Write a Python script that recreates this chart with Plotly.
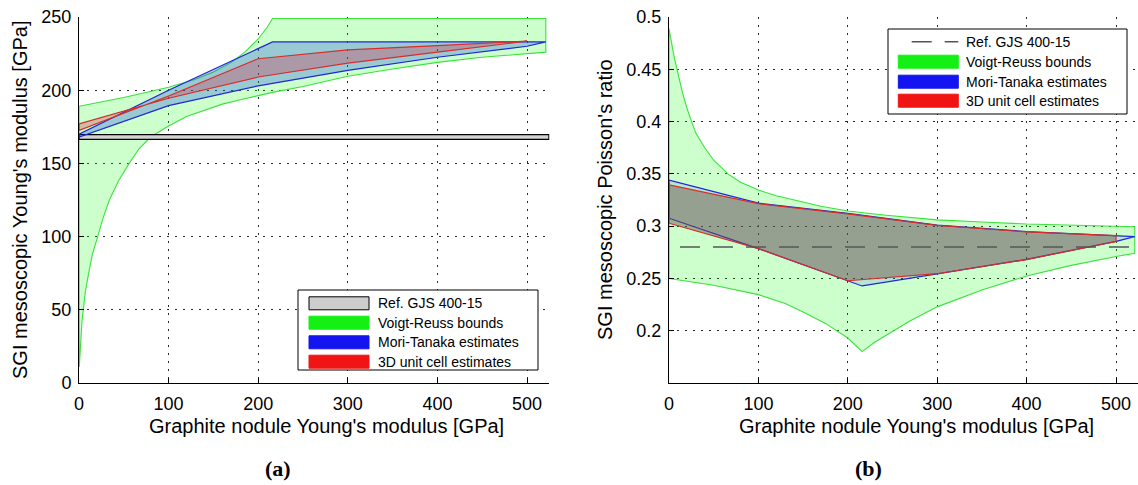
import plotly.graph_objects as go

# ---------------- data ----------------
# (a) SGI mesoscopic Young's modulus [GPa] vs graphite nodule Young's modulus [GPa]
ref_E_band = [166.4, 169.6]          # Ref. GJS 400-15 band
ref_E_xspan = [0, 524.5]

vr_E_upper_x = [0, 50, 100, 130, 150, 170, 185, 200, 210, 216, 300, 400, 521]
vr_E_upper = [189, 195, 202, 207.5, 212.5, 219, 226, 235, 243, 249, 249, 249, 249]
vr_E_lower_x = [0.3, 1, 1.5, 2.2, 3.3, 4.8, 7, 10.8, 15, 20.9, 27, 33.9, 44, 56, 67, 80,
                90, 100, 120, 140, 160, 180, 200, 216, 250, 280, 300, 350, 400, 450, 500, 521]
vr_E_lower = [11, 20, 27, 34, 42, 50, 62, 75, 88, 100, 113, 125, 138, 150, 160, 168,
              172, 175.5, 182, 186.5, 190.5, 193.5, 196.5, 198.5, 202.5, 207, 209.5, 214.5,
              219, 222.5, 225, 226]

mt_E_upper_x = [0, 100, 216, 521]
mt_E_upper = [170, 200, 233, 233]
mt_E_lower_x = [0, 100, 200, 216, 300, 400, 500, 521]
mt_E_lower = [168, 189.5, 203, 205, 213.5, 222.5, 230, 233]

uc_E_x = [0, 100, 200, 300, 400, 500]
uc_E_a = [172.5, 196, 221.5, 227.5, 230.5, 233.5]
uc_E_b = [177, 194.5, 209, 218.5, 226, 233.5]

# (b) SGI mesoscopic Poisson's ratio vs graphite nodule Young's modulus [GPa]
ref_nu = 0.28
ref_nu_xspan = [0, 524.5]

vr_nu_upper_x = [0, 2, 4, 6, 8.6, 11, 15, 20, 25.3, 30, 40, 50, 66, 80, 100, 120, 139,
                 170, 200, 240, 300, 350, 400, 460, 521]
vr_nu_upper = [0.489, 0.479, 0.470, 0.461, 0.451, 0.442, 0.428, 0.413, 0.400, 0.389,
               0.375, 0.363, 0.350, 0.342, 0.3345, 0.329, 0.325, 0.319, 0.3145, 0.3107,
               0.306, 0.304, 0.302, 0.3007, 0.2995]
vr_nu_lower_x = [0, 50, 100, 130, 150, 175, 200, 216, 230, 240, 250, 270, 300, 350, 400,
                 450, 500, 521]
vr_nu_lower = [0.25, 0.2435, 0.2345, 0.226, 0.218, 0.207, 0.193, 0.18, 0.189, 0.194,
               0.199, 0.2095, 0.2228, 0.239, 0.2524, 0.2625, 0.271, 0.274]

mt_nu_upper_x = [0, 100, 200, 300, 400, 500, 521]
mt_nu_upper = [0.344, 0.322, 0.3123, 0.301, 0.2948, 0.291, 0.29]
mt_nu_lower_x = [0, 100, 216, 300, 400, 500, 521]
mt_nu_lower = [0.3076, 0.2785, 0.2428, 0.2543, 0.2683, 0.2855, 0.29]

uc_nu_x = [0, 100, 200, 300, 400, 500]
uc_nu_upper = [0.3394, 0.3215, 0.3118, 0.3008, 0.2945, 0.291]
uc_nu_lower = [0.3028, 0.2785, 0.2478, 0.2545, 0.268, 0.2853]

# ticks
x_tickvals = [0, 100, 200, 300, 400, 500]
x_ticktext = ["0", "100", "200", "300", "400", "500"]
E_tickvals = [0, 50, 100, 150, 200, 250]
E_ticktext = ["0", "50", "100", "150", "200", "250"]
nu_tickvals = [0.2, 0.25, 0.3, 0.35, 0.4, 0.45, 0.5]
nu_ticktext = ["0.2", "0.25", "0.3", "0.35", "0.4", "0.45", "0.5"]

legend_a = ["Ref. GJS 400-15", "Voigt-Reuss bounds", "Mori-Tanaka estimates", "3D unit cell estimates"]
legend_b = ["Ref. GJS 400-15", "Voigt-Reuss bounds", "Mori-Tanaka estimates", "3D unit cell estimates"]

# ---------------- figure ----------------
W, H = 1138, 485
FONT = "Liberation Sans, Arial, sans-serif"


def px(x):
    return x / W


def py(y):
    return 1 - y / H


def poly(xa, ya, xb, yb):
    xs = list(xa) + list(xb)[::-1] + [xa[0]]
    ys = list(ya) + list(yb)[::-1] + [ya[0]]
    return xs, ys


GREEN_LINE = "rgb(60,225,60)"
BLUE_LINE = "rgb(30,40,215)"
RED_LINE = "rgb(215,45,45)"

fig = go.Figure()


def add_poly(xs, ys, fillcolor, linecolor, axes, width=1.2):
    fig.add_trace(go.Scatter(x=xs, y=ys, mode="lines", fill="toself",
                             fillcolor=fillcolor, line=dict(color=linecolor, width=width),
                             xaxis=axes[0], yaxis=axes[1], hoverinfo="skip",
                             showlegend=False))


# (a)
xs, ys = poly(vr_E_lower_x, vr_E_lower, vr_E_upper_x, vr_E_upper)
add_poly(xs, ys, "rgba(0,255,0,0.2)", GREEN_LINE, ("x", "y"), 1.1)
bx = [ref_E_xspan[0], ref_E_xspan[1], ref_E_xspan[1], ref_E_xspan[0], ref_E_xspan[0]]
by = [ref_E_band[0], ref_E_band[0], ref_E_band[1], ref_E_band[1], ref_E_band[0]]
add_poly(bx, by, "rgb(210,210,210)", "black", ("x", "y"), 1.3)
xs, ys = poly(mt_E_upper_x, mt_E_upper, mt_E_lower_x, mt_E_lower)
add_poly(xs, ys, "rgba(20,60,230,0.28)", BLUE_LINE, ("x", "y"))
xs, ys = poly(uc_E_x, uc_E_a, uc_E_x, uc_E_b)
add_poly(xs, ys, "rgba(215,43,65,0.3)", RED_LINE, ("x", "y"))

# (b)
xs, ys = poly(vr_nu_lower_x, vr_nu_lower, vr_nu_upper_x, vr_nu_upper)
add_poly(xs, ys, "rgba(0,255,0,0.2)", GREEN_LINE, ("x2", "y2"), 1.1)
xs, ys = poly(mt_nu_upper_x, mt_nu_upper, mt_nu_lower_x, mt_nu_lower)
add_poly(xs, ys, "rgba(0,0,255,0.1)", BLUE_LINE, ("x2", "y2"))
xs, ys = poly(uc_nu_x, uc_nu_upper, uc_nu_x, uc_nu_lower)
add_poly(xs, ys, "rgba(109,75,67,0.45)", RED_LINE, ("x2", "y2"))
fig.add_trace(go.Scatter(x=ref_nu_xspan, y=[ref_nu, ref_nu], mode="lines",
                         line=dict(color="rgb(85,85,85)", width=1.6, dash="0px,11px,20px,2px"),
                         xaxis="x2", yaxis="y2", hoverinfo="skip", showlegend=False))

axis_common = dict(showline=True, linecolor="black", linewidth=1, mirror=False,
                   showgrid=True, gridcolor="rgb(40,40,40)", gridwidth=1, griddash="2px,6px",
                   zeroline=False, ticks="inside", ticklen=5, tickcolor="black",
                   tickfont=dict(family=FONT, size=18, color="black"),
                   tickmode="array", fixedrange=True, automargin=False)

fig.update_layout(
    width=W, height=H, margin=dict(l=0, r=0, t=0, b=0, pad=0, autoexpand=False),
    paper_bgcolor="white", plot_bgcolor="white", showlegend=False,
    xaxis=dict(domain=[px(79), px(549.4)], range=[0, 525], anchor="y",
               tickvals=x_tickvals, ticktext=x_ticktext, ticklabelstandoff=4, **axis_common),
    yaxis=dict(domain=[py(383), py(17)], range=[0, 250], anchor="x",
               tickvals=E_tickvals, ticktext=E_ticktext, ticklabelstandoff=3, **axis_common),
    xaxis2=dict(domain=[px(669), 1.0], range=[0, 524.6], anchor="y2",
                tickvals=x_tickvals, ticktext=x_ticktext, ticklabelstandoff=4, **axis_common),
    yaxis2=dict(domain=[py(383), py(17)], range=[0.15, 0.5], anchor="x2",
                tickvals=nu_tickvals, ticktext=nu_ticktext, ticklabelstandoff=3, **axis_common),
)

ann = []


def text(x, y, s, size, angle=0, xanchor="center", family=FONT):
    ann.append(dict(x=px(x), y=py(y), xref="paper", yref="paper", text=s, showarrow=False,
                    textangle=angle, xanchor=xanchor, yanchor="middle",
                    font=dict(family=family, size=size, color="black")))


text(20, 200, "SGI mesoscopic Young's modulus [GPa]", 20, angle=-90)
text(326, 426, "Graphite nodule Young's modulus [GPa]", 20)
text(605, 200, "SGI mesoscopic Poisson's ratio", 20, angle=-90)
text(916, 426, "Graphite nodule Young's modulus [GPa]", 20)
text(278, 468, "<b>(a)</b>", 22, family="Liberation Serif, Times New Roman, serif")
text(868, 468, "<b>(b)</b>", 22, family="Liberation Serif, Times New Roman, serif")

shapes = []


def rect(x0, y0, x1, y1, fill, line, lw=1):
    shapes.append(dict(type="rect", xref="paper", yref="paper", x0=px(x0), x1=px(x1),
                       y0=py(y1), y1=py(y0), fillcolor=fill,
                       line=dict(color=line, width=lw), layer="above"))


# legend (a)
rect(298, 290, 538, 370, "white", "black", 1)
swatch_a = [("rgb(205,205,205)", "black"), ("rgb(20,240,20)", "rgb(20,240,20)"),
            ("rgb(20,20,240)", "rgb(20,20,240)"), ("rgb(240,20,20)", "rgb(240,20,20)")]
rows_a = [303.3, 322.7, 342.3, 361.7]
for (fc, lc), yc, lab in zip(swatch_a, rows_a, legend_a):
    rect(309, yc - 6.5, 369, yc + 6.5, fc, lc, 1)
    text(375.5, yc, lab, 14, xanchor="left")

# legend (b)
rect(888, 29, 1127, 114, "white", "black", 1)
rows_b = [41.7, 61.7, 81.7, 100.7]
shapes.append(dict(type="line", xref="paper", yref="paper", x0=px(911.7), x1=px(958.3),
                   y0=py(rows_b[0]), y1=py(rows_b[0]),
                   line=dict(color="rgb(85,85,85)", width=1.6, dash="20px,13px"), layer="above"))
text(964.3, rows_b[0], legend_b[0], 14, xanchor="left")
for (fc, lc), yc, lab in zip(swatch_a[1:], rows_b[1:], legend_b[1:]):
    rect(898.3, yc - 6.5, 958.3, yc + 6.5, fc, lc, 1)
    text(964.3, yc, lab, 14, xanchor="left")

fig.update_layout(annotations=ann, shapes=shapes)
fig.write_html("out.html")
